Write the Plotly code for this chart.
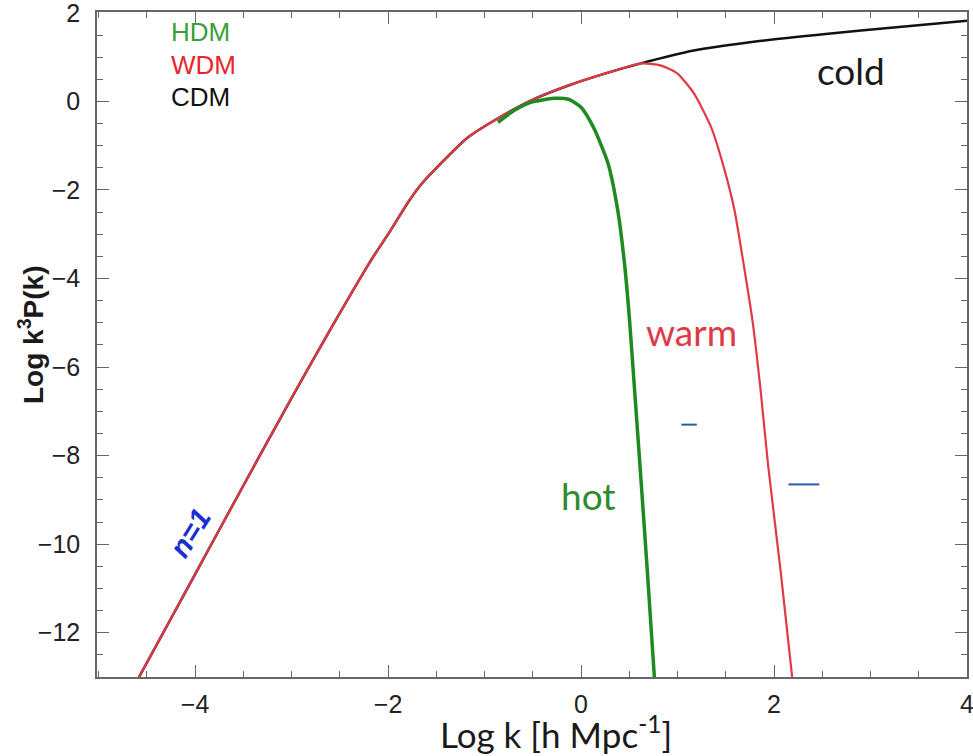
import plotly.graph_objects as go

# Dimensionless power spectra, log10 k [h/Mpc] vs log10 k^3 P(k)
shared_logk = [-4.58, -4.0, -3.5, -3.0, -2.59, -2.18, -1.97, -1.79, -1.66,
               -1.52, -1.17, -0.86, -0.52, -0.13, 0.28, 0.62]
shared_logp = [-13.0, -10.68, -8.68, -6.70, -5.12, -3.60, -2.90, -2.27, -1.88,
               -1.55, -0.81, -0.38, 0.02, 0.36, 0.65, 0.86]

cdm_logk = shared_logk + [1.17, 1.87, 2.56, 3.24, 4.0]
cdm_logp = shared_logp + [1.15, 1.37, 1.53, 1.67, 1.82]

wdm_logk = shared_logk + [0.83, 1.0, 1.17, 1.35, 1.48, 1.59, 1.69, 1.78,
                          1.86, 1.94, 2.07, 2.19]
wdm_logp = shared_logp + [0.81, 0.63, 0.18, -0.59, -1.49, -2.45, -3.74, -5.0,
                          -6.5, -8.24, -10.63, -13.04]

hdm_logk = [-0.86, -0.69, -0.52, -0.28, -0.13, 0.0, 0.13, 0.28, 0.38, 0.45,
            0.50, 0.54, 0.62, 0.69, 0.76]
hdm_logp = [-0.47, -0.20, -0.02, 0.07, 0.05, -0.13, -0.59, -1.40, -2.45,
            -3.65, -4.86, -6.06, -8.5, -10.7, -13.0]

legend_names = ["HDM", "WDM", "CDM"]
legend_colors = ["#3a9e3a", "#e8262e", "#111111"]

# short blue marker strokes: (x0, x1, y)
blue_strokes = [(1.04, 1.20, -7.30), (2.15, 2.47, -8.65)]

RED = "#e03a46"
GREEN = "#1f8a1f"
BLACK = "#111111"

W, H = 973, 756
ML, MR, MT, MB = 97, 6, 12, 79


def px_x(px):
    return (px - ML) / (W - ML - MR)


def px_y(py):
    # py measured from the top edge of the page
    return (H - py - MB) / (H - MB - MT)


fig = go.Figure()
fig.add_trace(go.Scatter(x=cdm_logk, y=cdm_logp, mode="lines",
                         line=dict(color=BLACK, width=2.5, shape="spline", smoothing=0.6),
                         showlegend=False, hoverinfo="skip"))
fig.add_trace(go.Scatter(x=wdm_logk, y=wdm_logp, mode="lines",
                         line=dict(color=RED, width=2.2, shape="spline", smoothing=0.6),
                         showlegend=False, hoverinfo="skip"))
fig.add_trace(go.Scatter(x=hdm_logk, y=hdm_logp, mode="lines",
                         line=dict(color=GREEN, width=3.5, shape="spline", smoothing=0.6),
                         showlegend=False, hoverinfo="skip"))

for x0, x1, y in blue_strokes:
    fig.add_shape(type="line", x0=x0, x1=x1, y0=y, y1=y, xref="x", yref="y",
                  line=dict(color="#2a5aa8", width=2))

# legend block as coloured text
for i, (name, col) in enumerate(zip(legend_names, legend_colors)):
    fig.add_annotation(x=px_x(169), y=px_y(32 + 32.5 * i), xref="paper", yref="paper",
                       text=name, showarrow=False, xanchor="left", yanchor="middle",
                       font=dict(family="Liberation Sans, Arial", size=26, color=col))

label_font = "Lato, Open Sans, sans-serif"
fig.add_annotation(x=2.8, y=0.7, text="cold", showarrow=False,
                   xanchor="center", yanchor="middle",
                   font=dict(family=label_font, size=37, color="#1a1a1a"))
fig.add_annotation(x=1.15, y=-5.2, text="warm", showarrow=False,
                   xanchor="center", yanchor="middle",
                   font=dict(family=label_font, size=37, color="#e03a46"))
fig.add_annotation(x=0.08, y=-8.9, text="hot", showarrow=False,
                   xanchor="center", yanchor="middle",
                   font=dict(family=label_font, size=37, color="#2e8b2e"))
fig.add_annotation(x=-4.05, y=-9.75, text="<b><i>n=1</i></b>", showarrow=False,
                   textangle=-58, xanchor="center", yanchor="middle",
                   font=dict(family="Liberation Sans, Arial", size=29, color="#1a2fd0"))

axis_common = dict(
    showline=True, linecolor="#666666", linewidth=1.5, mirror="allticks",
    ticks="inside", ticklen=12, tickwidth=1.3, tickcolor="#666666",
    showgrid=False, zeroline=False, ticklabeloverflow="allow", automargin=False,
    tickfont=dict(family="Liberation Sans, Arial", size=25, color="#222222"),
    minor=dict(ticks="inside", ticklen=6, tickwidth=1.2, tickcolor="#666666",
               dtick=0.5, showgrid=False),
)

fig.update_xaxes(range=[-5.016, 4.0], tick0=0, dtick=2, ticklabelstandoff=4,
                 **axis_common)
fig.update_yaxes(range=[-13, 2.02], tick0=0, dtick=2, ticklabelstandoff=10,
                 **axis_common)

fig.add_annotation(x=px_x(556), y=px_y(757), xref="paper", yref="paper",
                   text="Log k [h Mpc<sup>-1</sup>]", showarrow=False,
                   xanchor="center", yanchor="bottom",
                   font=dict(family=label_font, size=35, color="#1a1a1a"))
fig.add_annotation(x=px_x(31), y=px_y(335), xref="paper", yref="paper",
                   text="<b>Log k<sup>3</sup>P(k)</b>", showarrow=False, textangle=-90,
                   xanchor="center", yanchor="middle",
                   font=dict(family="Liberation Sans, Arial", size=28, color="#1a1a1a"))

fig.update_layout(
    width=W, height=H,
    margin=dict(l=ML, r=MR, t=MT, b=MB, autoexpand=False),
    paper_bgcolor="white", plot_bgcolor="white",
)

fig.write_html("out.html")
